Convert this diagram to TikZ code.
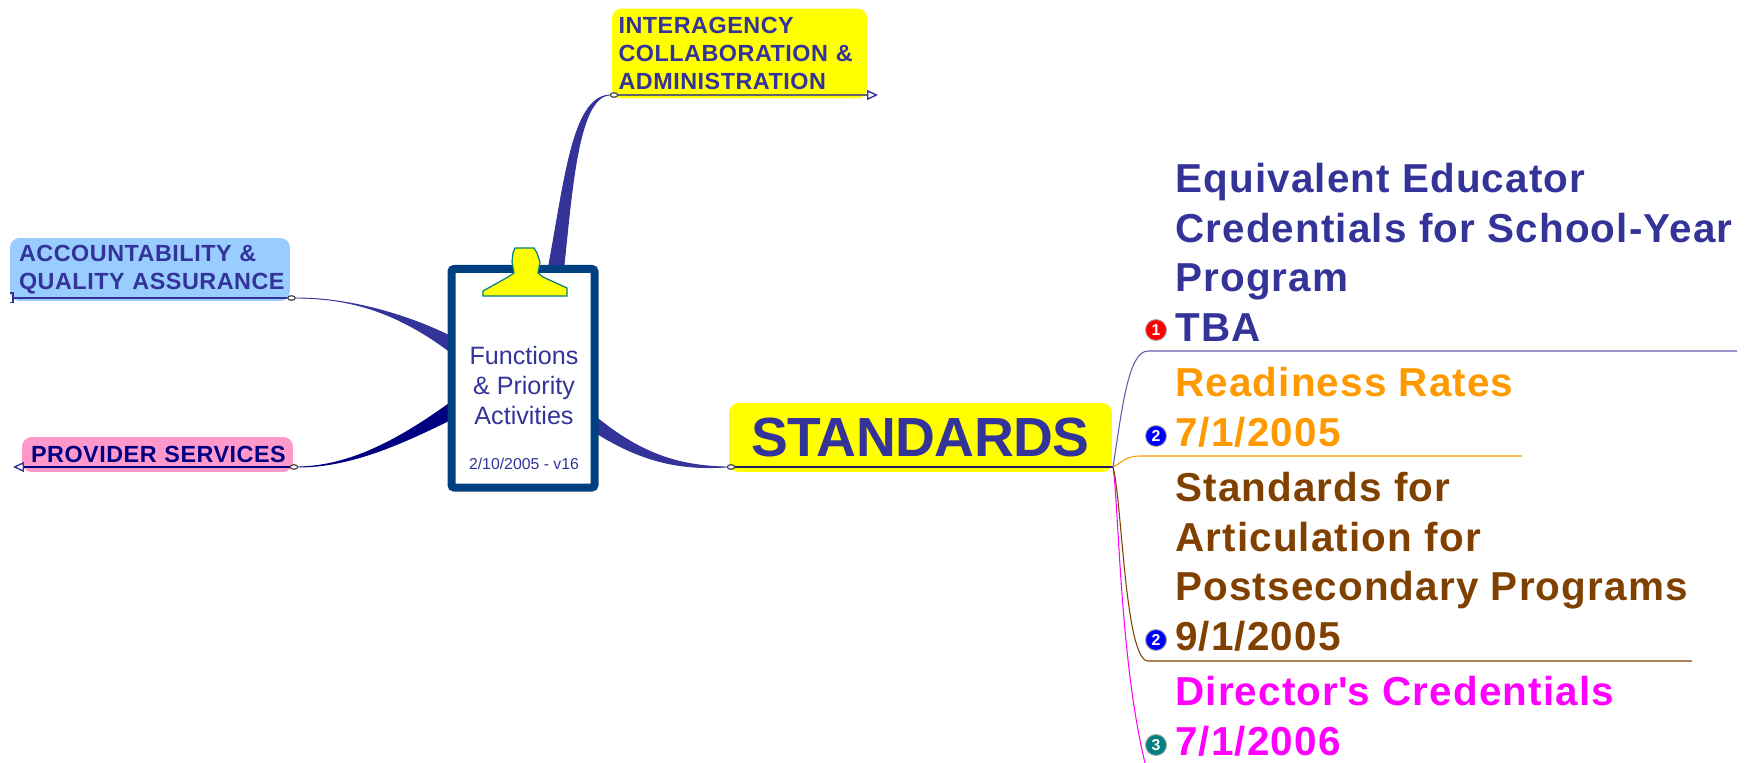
\documentclass[tikz,border=0pt]{standalone}
\usepackage{fontspec}
\setmainfont{Liberation Sans}
\usetikzlibrary{arrows.meta,shapes.geometric}
\definecolor{topicblue}{HTML}{333399}
\definecolor{topicnavy}{HTML}{000080}
\definecolor{boardblue}{HTML}{004080}
\definecolor{skyfill}{HTML}{99CCFF}
\definecolor{pinkfill}{HTML}{FF99CC}
\definecolor{clipyellow}{HTML}{FFFF00}
\definecolor{readyorange}{HTML}{FF9900}
\definecolor{artibrown}{HTML}{804000}
\definecolor{dirmagenta}{HTML}{FF00FF}
\definecolor{clipteal}{HTML}{008080}
\definecolor{bulletred}{HTML}{FF0000}
\definecolor{bulletblue}{HTML}{0000FF}
\tikzset{
  topicbox/.style={rounded corners=5.5pt,inner ysep=0pt,align=left},
  smalltopic/.style={topicbox,text=topicblue,font=\fontsize{13.3}{15.7}\selectfont\bfseries\addfontfeature{LetterSpace=2.2}},
  subtopic/.style={anchor=base west,inner sep=0pt,align=left,font=\fontsize{23}{28.1}\selectfont\bfseries\addfontfeature{LetterSpace=2.8}},
  knob/.style={ellipse,draw=black!70,fill=white,line width=0.7pt,minimum width=0.15cm,minimum height=0.09cm,inner sep=0pt},
  bullet/.style={circle,draw=black!35,line width=0.5pt,minimum size=0.42cm,inner sep=0pt,text=white,font=\fontsize{9}{9}\selectfont\bfseries},
  taper/.style={fill=#1,draw=#1,line width=0.5pt},
  twig/.style={line width=0.6pt},
  opentip/.style={-{Triangle[open,length=0.22cm,width=0.2cm,color=#1]}}
}
\begin{document}
\begin{tikzpicture}[x=0.02cm,y=-0.02cm]
  \useasboundingbox (0,0) rectangle (1754,763);
  % topic boxes
  \node[smalltopic,fill=clipyellow,inner xsep=0.13cm,text width=4.84cm,minimum height=1.8cm] (interagency) at (739.5,53.5)
    {INTERAGENCY\\COLLABORATION \&\\ADMINISTRATION};
  \node[smalltopic,fill=skyfill,inner xsep=0.18cm,text width=5.24cm,minimum height=1.26cm] (accountability) at (150,269.5)
    {\raisebox{-0.5pt}{ACCOUNTABILITY \&}\\\raisebox{-0.5pt}{QUALITY ASSURANCE}};
  \node[smalltopic,text=topicnavy,fill=pinkfill,inner xsep=0.18cm,text width=5.06cm,minimum height=0.7cm] (provider) at (157.5,454.5)
    {\mbox{PROVIDER SERVICES}};
  \node[topicbox,fill=clipyellow,text=topicblue,font=\fontsize{31.4}{36}\selectfont\bfseries\addfontfeature{LetterSpace=-1},inner xsep=0pt,minimum width=7.66cm,minimum height=1.38cm] (standards) at (920.5,437.5)
    {STANDARDS};
  % free ends and board ends of the branches
  \coordinate (interend) at (878,95);
  \coordinate (accend) at (10,298);
  \coordinate (provend) at (13,467);
  \coordinate (root) at (1113,467);
  \coordinate (tbabend) at (1148,351);
  \coordinate (tbaend) at (1737,351);
  \coordinate (readybend) at (1140,456);
  \coordinate (readyend) at (1522,456);
  \coordinate (artibend) at (1148,661);
  \coordinate (artiend) at (1692,661);
  \coordinate (dirend) at (1145,763);
  \node[knob] (interknob) at (614,95) {};
  \node[knob] (accknob) at (291.5,298) {};
  \node[knob] (provknob) at (294,467) {};
  \node[knob] (standknob) at (731,467) {};
  \coordinate (ta) at (547,275);
  \coordinate (tb) at (563,275);
  \coordinate (aa) at (458,340);
  \coordinate (ab) at (458,358);
  \coordinate (pa) at (458,397);
  \coordinate (pb) at (458,416);
  \coordinate (sa) at (590,412);
  \coordinate (sb) at (590,429);
  % tapered branches
  \filldraw[taper=topicblue] (ta) .. controls (565,180) and (572,97) .. (interknob.west)
    .. controls (578,97) and (572,190) .. (tb) -- cycle;
  \filldraw[taper=topicblue] (aa) .. controls (410,315) and (350,298) .. (accknob.east)
    .. controls (350,298) and (400,312) .. (ab) -- cycle;
  \filldraw[taper=topicnavy] (pa) .. controls (400,440) and (350,466) .. (provknob.east)
    .. controls (350,467) and (400,445) .. (pb) -- cycle;
  \filldraw[taper=topicblue] (sa) .. controls (640,455) and (680,466) .. (standknob.west)
    .. controls (680,470) and (640,462) .. (sb) -- cycle;
  % underlines
  \draw[black!60,line width=0.8pt,opentip=topicblue] (interknob) -- (interend);
  \draw[topicblue,line width=0.8pt,-{Bracket[reversed,length=0.06cm,width=0.22cm]}] (accknob) -- (accend);
  \draw[topicnavy,line width=0.8pt,opentip=topicblue] (provknob) -- (provend);
  \draw[black!40!topicblue,line width=0.8pt] (standknob) -- (root);
  % clipboard
  \draw[boardblue,fill=white,line width=0.16cm,rounded corners=1.5pt] (451.5,269) rectangle (594.5,487.5);
  \node[inner sep=0pt,align=center,text=topicblue,font=\fontsize{14.3}{17.2}\selectfont] (functions) at (524,385.5)
    {Functions\\\& Priority\\Activities};
  \node[inner sep=0pt,text=topicblue,font=\fontsize{9}{11}\selectfont] (version) at (524,463.5) {2/10/2005 - v16};
  \fill[clipyellow,draw=clipteal,line width=0.7pt] (515,248) -- (534,248) -- (537,253) -- (540,262) -- (538,273) -- (543,277)
    -- (567,288) -- (567,296) -- (483,296) -- (483,291) -- (508,277) -- (514,273) -- (512,262) -- (513,253) -- cycle;
  % right hand twigs
  \draw[topicblue!80,twig] (root) .. controls (1122,410) and (1128,351) .. (tbabend) -- (tbaend);
  \draw[readyorange,twig] (root) .. controls (1122,463) and (1125,456) .. (readybend) -- (readyend);
  \draw[dirmagenta,twig] (root) .. controls (1119,510) and (1120,660) .. (dirend);
  \draw[artibrown,twig] (root) .. controls (1122,500) and (1125,661) .. (artibend) -- (artiend);
  % right hand topics
  \node[subtopic,text=topicblue] (tba) at (1175,341) {Equivalent Educator\\Credentials for School-Year\\Program\\TBA};
  \node[subtopic,text=readyorange] (ready) at (1175,446) {Readiness Rates\\7/1/2005};
  \node[subtopic,text=artibrown] (arti) at (1175,650) {Standards for\\Articulation for\\Postsecondary Programs\\9/1/2005};
  \node[subtopic,text=dirmagenta] (director) at (1175,755) {Director\textquotesingle s Credentials\\7/1/2006};
  \node[bullet,fill=bulletred] (bulletone) at (1156,330) {1};
  \node[bullet,fill=bulletblue] (bullettwo) at (1156,436) {2};
  \node[bullet,fill=bulletblue] (bulletarti) at (1156,640) {2};
  \node[bullet,fill=clipteal] (bulletthree) at (1156,745) {3};
\end{tikzpicture}
\end{document}
